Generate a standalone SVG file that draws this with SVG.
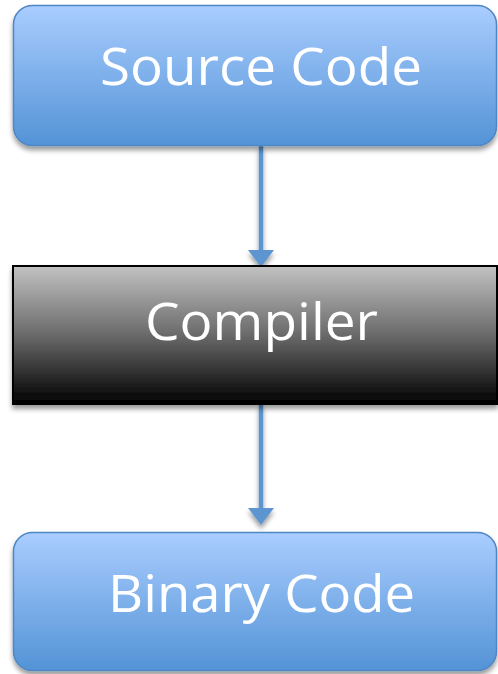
<svg xmlns="http://www.w3.org/2000/svg" width="498" height="674" viewBox="0 0 498 674">
  <defs>
    <linearGradient id="blueFill" x1="0" y1="0" x2="0" y2="1">
      <stop offset="0" stop-color="#aacdff"/>
      <stop offset="1" stop-color="#5393d6"/>
    </linearGradient>
    <linearGradient id="darkFill" x1="0" y1="0" x2="0" y2="1">
      <stop offset="0" stop-color="#c2c2c2"/>
      <stop offset="0.5" stop-color="#6a6a6a"/>
      <stop offset="1" stop-color="#000000"/>
    </linearGradient>
    <filter id="shadow" x="-10%" y="-10%" width="120%" height="130%">
      <feGaussianBlur in="SourceAlpha" stdDeviation="2.5"/>
      <feOffset dx="0" dy="4" result="b"/>
      <feComponentTransfer><feFuncA type="linear" slope="0.4"/></feComponentTransfer>
      <feMerge><feMergeNode/><feMergeNode in="SourceGraphic"/></feMerge>
    </filter>
    <style>
      .blue { fill: url(#blueFill); stroke: #4f86c4; stroke-width: 1.5; }
      .dark { fill: url(#darkFill); stroke: #000; stroke-width: 2; }
      .label { font-family: "Open Sans", "Liberation Sans", sans-serif; font-size: 51px; fill: #fff; text-anchor: middle; }
      .conn { stroke: #5b95cf; stroke-width: 4.5; fill: none; }
      .head { fill: #5b95cf; }
    </style>
  </defs>

  <!-- arrows between the three stages -->
  <g id="connectors" filter="url(#shadow)">
    <path class="conn" d="M261,146 V250"/>
    <path class="head" d="M248,250 L274,250 L261,267 Z"/>
    <path class="conn" d="M261,404 V508"/>
    <path class="head" d="M248,508 L274,508 L261,525 Z"/>
  </g>

  <g id="source-code" filter="url(#shadow)">
    <rect class="blue" x="13.5" y="5.5" width="483" height="140" rx="19"/>
    <text class="label" x="261" y="85" textLength="322" lengthAdjust="spacingAndGlyphs">Source Code</text>
  </g>

  <g id="compiler" filter="url(#shadow)">
    <rect class="dark" x="13" y="266" width="484" height="138"/>
    <text class="label" x="261.5" y="340" textLength="233" lengthAdjust="spacingAndGlyphs">Compiler</text>
  </g>

  <g id="binary-code" filter="url(#shadow)">
    <rect class="blue" x="13.5" y="532.5" width="483" height="138" rx="19"/>
    <text class="label" x="261.5" y="612" textLength="307" lengthAdjust="spacingAndGlyphs">Binary Code</text>
  </g>
</svg>
